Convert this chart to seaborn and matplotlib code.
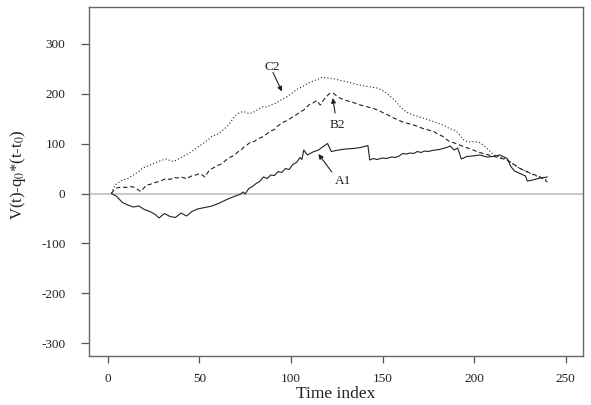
import pandas as pd
import matplotlib
matplotlib.use('Agg')
import matplotlib.pyplot as plt
import seaborn as sns

# series A1 (solid)
a1_t = [2, 5, 8, 11, 14, 17, 20, 23, 26, 28, 31, 34, 37, 40, 43, 46, 49, 53, 57, 61,
        65, 69, 72, 74, 75, 77, 79, 81, 83, 85, 87, 89, 91, 93, 95, 97, 99, 101, 103, 105,
        106, 107, 109, 112, 115, 118, 120, 122, 126, 130, 134, 138, 142, 143, 145, 147, 150, 152, 155, 157,
        159, 161, 163, 165, 167, 169, 171, 173, 175, 177, 179, 181, 183, 185, 187, 189, 191, 193, 196, 199,
        203, 207, 210, 214, 218, 220, 222, 225, 228, 229, 232, 236, 240]
a1_v = [0, -6, -18, -23, -27, -25, -32, -36, -42, -49, -40, -46, -48, -39, -45, -36, -31, -28, -25, -19,
        -12, -6, -2, 3, -1, 10, 14, 20, 24, 33, 30, 37, 36, 44, 42, 50, 48, 58, 62, 72,
        68, 87, 77, 83, 87, 95, 100, 84, 87, 89, 90, 92, 96, 67, 70, 68, 71, 70, 73, 72,
        75, 80, 79, 81, 80, 84, 82, 85, 84, 86, 87, 88, 90, 92, 95, 87, 91, 69, 74, 75,
        77, 73, 74, 77, 70, 54, 45, 40, 35, 25, 27, 31, 33]

# series B2 (dashed)
b2_t = [2, 4, 7, 10, 12, 14, 16, 18, 20, 21, 23, 25, 28, 30, 32, 34, 36, 38, 40, 42,
        43, 45, 47, 49, 50, 52, 53, 55, 56, 58, 60, 62, 63, 65, 67, 69, 71, 73, 74, 76,
        78, 80, 81, 83, 85, 87, 89, 91, 92, 94, 96, 98, 100, 102, 105, 107, 110, 112, 114, 116,
        118, 119, 121, 123, 124, 126, 128, 131, 134, 138, 141, 145, 148, 150, 153, 156, 158, 161, 164, 167,
        170, 172, 175, 178, 180, 183, 186, 190, 194, 198, 203, 207, 212, 215, 218, 221, 223, 225, 228, 231,
        234, 236, 238, 240]
b2_v = [0, 10, 13, 12, 14, 13, 9, 4, 12, 17, 18, 21, 24, 27, 30, 28, 32, 31, 33, 31,
        29, 34, 36, 38, 40, 36, 33, 44, 48, 52, 56, 59, 62, 68, 73, 76, 83, 87, 92, 97,
        103, 104, 107, 111, 114, 120, 125, 128, 133, 138, 143, 146, 151, 155, 163, 167, 178, 181, 186, 177,
        188, 192, 200, 201, 198, 192, 189, 185, 182, 177, 174, 170, 166, 162, 157, 151, 148, 143, 140, 137,
        133, 130, 127, 124, 119, 114, 105, 100, 94, 89, 82, 78, 73, 70, 67, 60, 55, 50, 45, 40,
        36, 33, 28, 23]

# series C2 (dotted)
c2_t = [2, 4, 6, 8, 11, 14, 17, 19, 22, 25, 27, 29, 32, 34, 36, 39, 41, 44, 47, 50,
        52, 55, 57, 59, 61, 64, 66, 68, 70, 72, 74, 77, 79, 82, 85, 87, 89, 92, 95, 98,
        100, 103, 106, 109, 112, 115, 117, 119, 121, 124, 127, 130, 133, 136, 139, 142, 145, 147, 150, 152,
        155, 157, 160, 163, 166, 170, 173, 177, 180, 183, 185, 187, 189, 191, 194, 196, 198, 200, 203, 205,
        207, 209, 211, 214, 217, 220, 222, 225, 229, 232, 234, 237, 240]
c2_v = [0, 17, 22, 27, 30, 37, 44, 51, 55, 60, 63, 66, 69, 66, 64, 70, 74, 80, 87, 95,
        100, 108, 115, 117, 121, 130, 137, 148, 157, 162, 164, 160, 161, 168, 174, 173, 177, 181, 188, 194,
        199, 208, 213, 220, 225, 229, 233, 231, 231, 229, 226, 224, 221, 218, 216, 214, 212, 211, 206, 201,
        192, 185, 172, 163, 158, 153, 150, 145, 141, 137, 133, 129, 127, 122, 108, 104, 103, 104, 102, 97,
        90, 83, 77, 73, 70, 62, 57, 50, 43, 38, 35, 31, 27]

x_ticks = [0, 50, 100, 150, 200, 250]
y_ticks = [-300, -200, -100, 0, 100, 200, 300]

sns.set_style('white')
plt.rcParams['font.family'] = ['Liberation Serif', 'DejaVu Serif']
plt.rcParams['mathtext.fontset'] = 'stix'
plt.rcParams['axes.unicode_minus'] = False

fig = plt.figure(figsize=(5.91, 4.05), dpi=100)
ax = fig.add_axes([0.1506, 0.121, 0.8359, 0.8617])

ax.axhline(0, color='#c8c8c8', lw=1.4, zorder=1)

a1 = pd.DataFrame({'t': a1_t, 'v': a1_v})
b2 = pd.DataFrame({'t': b2_t, 'v': b2_v})
c2 = pd.DataFrame({'t': c2_t, 'v': c2_v})

sns.lineplot(data=a1, x='t', y='v', ax=ax, color='#222222', lw=0.8, linestyle='-')
sns.lineplot(data=b2, x='t', y='v', ax=ax, color='#222222', lw=0.8, linestyle=(0, (4, 2.5)))
sns.lineplot(data=c2, x='t', y='v', ax=ax, color='#222222', lw=0.8, linestyle=(0, (1, 2)))

arrow = dict(arrowstyle='-|>', color='#222222', lw=0.8, mutation_scale=7, shrinkA=0, shrinkB=0)
ax.text(89.7, 254, 'C2', ha='center', va='center', fontsize=9.5, color='#222222')
ax.annotate('', xy=(95.1, 204), xytext=(90.2, 242), arrowprops=arrow)
ax.text(125.2, 137, 'B2', ha='center', va='center', fontsize=9.5, color='#222222')
ax.annotate('', xy=(122.8, 191), xytext=(124.1, 161), arrowprops=arrow)
ax.text(128.4, 25, 'A1', ha='center', va='center', fontsize=9.5, color='#222222')
ax.annotate('', xy=(115, 79), xytext=(122.3, 43), arrowprops=arrow)

ax.set_xlim(-10.2, 259.4)
ax.set_ylim(-325, 373)
ax.set_xticks(x_ticks)
ax.set_yticks(y_ticks)
ax.tick_params(axis='both', direction='out', color='#555555', width=0.9, labelsize=9.5,
               labelcolor='#222222', left=True, bottom=True)
ax.tick_params(axis='x', length=5, pad=7)
ax.tick_params(axis='y', length=6, pad=11)

for s in ax.spines.values():
    s.set_color('#666666')
    s.set_linewidth(1.0)

ax.set_xlabel('Time index', fontsize=12.5, color='#222222')
ax.set_ylabel(r'V(t)-q$_0$*(t-t$_0$)', fontsize=12, color='#222222')
ax.xaxis.set_label_coords(0.5, -0.085)
ax.yaxis.set_label_coords(-0.123, 0.52)

fig.savefig('out.png', dpi=100)
